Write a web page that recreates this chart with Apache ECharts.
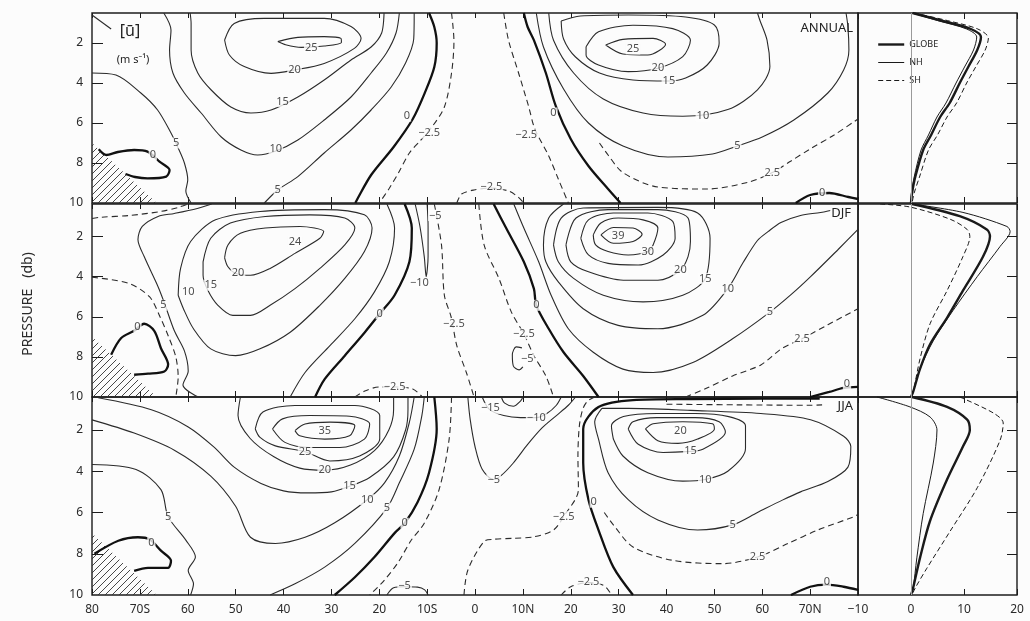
<!DOCTYPE html>
<html>
<head>
<meta charset="utf-8">
<title>Zonal mean wind [u]</title>
<script src="https://cdn.jsdelivr.net/npm/echarts@6/dist/echarts.min.js"></script>
<style>
  html, body { margin: 0; padding: 0; background: #fcfcfc; }
  #chart { width: 1030px; height: 621px; }
</style>
</head>
<body>
<div id="chart"></div>
<script>
  // axis ticks
  const latTicks = [-80, -70, -60, -50, -40, -30, -20, -10, 0, 10, 20, 30, 40, 50, 60, 70];
  const latTickLabels = ['80', '70S', '60', '50', '40', '30', '20', '10S', '0', '10N', '20', '30', '40', '50', '60', '70N'];
  const pressureTicks = [2, 4, 6, 8, 10];
  const uTicks = [-10, 0, 10, 20];

  // topography (hatched) [lat, p]
  const antarcticTopo = [[-80, 7.0], [-80, 10], [-66.5, 10]];

  // contours: [value, [[lat, p], ...]]
  const annualContours = [
    [25, [[-41.2, 1.93], [-37, 1.72], [-31.5, 1.68], [-28, 1.77], [-27.9, 1.97], [-31.5, 2.15], [-36.3, 2.22], [-39.8, 2.07], [-41.2, 1.93]]],
    [20, [[-52.3, 1.85], [-50.3, 1.02], [-44, 0.77], [-31.5, 0.77], [-25.9, 1.18], [-23.8, 1.77], [-25.2, 2.27], [-31.5, 3.02], [-37.7, 3.35], [-42.6, 3.52], [-48.2, 3.18], [-51.3, 2.6], [-52.3, 1.85]]],
    [15, [[-59.5, 0.5], [-59.3, 1.02], [-59.3, 2.35], [-57.9, 3.5], [-55.1, 4.35], [-51, 5.2], [-46.8, 5.5], [-42.6, 5.35], [-37, 4.7], [-31.5, 3.85], [-25.9, 2.85], [-21.7, 2.2], [-19.5, 1.5], [-19, 0.5]]],
    [10, [[-65, 0.5], [-63.5, 1.35], [-63.8, 2.35], [-63.1, 3.5], [-60.7, 4.5], [-57.2, 5.5], [-53, 6.7], [-48.9, 7.35], [-45.4, 7.6], [-41.6, 7.4], [-37, 6.85], [-31.5, 5.85], [-25.9, 4.7], [-21.7, 3.5], [-18.5, 2.5], [-16.5, 1.5], [-15.8, 0.5]]],
    [10, [[-80, 0.6], [-76, 1.3]]],
    [5, [[-80, 3.5], [-75, 3.6], [-69.8, 4.5], [-66.3, 5.35], [-63.5, 6.5], [-62.1, 7.2], [-60.7, 8.0], [-60, 8.85], [-60.4, 9.4], [-59.3, 10]]],
    [5, [[-44, 10], [-41.2, 9.35], [-37, 8.68], [-31.5, 7.5], [-25.9, 6.35], [-21.7, 5.35], [-17.5, 4.2], [-14.5, 3.0], [-12.8, 1.8], [-12.7, 0.5]]],
    [0, [[-78.6, 7.31], [-77, 7.6], [-74.6, 7.45], [-71.2, 7.35], [-68.4, 7.43], [-65.9, 7.93], [-63.8, 8.35], [-64.5, 8.68], [-68.4, 8.77], [-71, 8.7], [-73, 8.55]]],
    [0, [[-9.6, 0.5], [-8.5, 1.2], [-8, 2], [-8.5, 3.2], [-10.5, 4.5], [-13, 5.8], [-17, 7.2], [-21.7, 8.6], [-25, 10]]],
    [-2.5, [[-4.9, 0.5], [-4.4, 1.9], [-4.9, 3.5], [-6.4, 5.2], [-9, 6.2], [-11.5, 6.9], [-13.7, 7.5], [-16, 8.5], [-18, 9.3], [-20, 10]]],
    [-2.5, [[-3.8, 10], [-2.8, 9.55], [-0.2, 9.35], [3.4, 9.25], [7, 9.4], [9, 9.7], [10.2, 10]]],
    [-2.5, [[6, 0.5], [7, 1.86], [9.1, 3.5], [11.2, 5.17], [12.5, 6.3], [15.4, 7.65], [17.4, 8.8], [19.5, 10]]],
    [0, [[10.2, 0.5], [11, 1.2], [12.3, 1.86], [14.8, 3.5], [16.9, 5.17], [20, 6.8], [23.7, 8.15], [27.8, 9.3], [30.4, 10]]],
    [5, [[12.8, 0.5], [14.3, 2.2], [18.5, 4.3], [23.7, 6.0], [30.9, 7.15], [40.3, 7.7], [49.6, 7.55], [54.8, 7.15], [60, 6.7], [66.6, 5.85], [73.7, 4.5], [77, 3.35], [78.1, 2.35], [77.9, 1.2], [77.5, 0.5]]],
    [10, [[15.4, 0.5], [16.4, 1.86], [20.6, 3.5], [26.8, 4.8], [35.1, 5.5], [43.4, 5.66], [52.8, 5.33], [59, 4.34], [61.6, 3.18], [61, 1.86], [59.5, 0.86], [59, 0.5]]],
    [15, [[18, 0.9], [22, 0.65], [32, 0.6], [44, 0.7], [50, 1.1], [51, 2.0], [48.5, 3.1], [44, 3.75], [40.5, 3.9], [33, 3.85], [26, 3.5], [21, 2.7], [18.5, 1.8], [18, 0.9]]],
    [20, [[23.2, 2.19], [25.8, 1.44], [33, 1.11], [41.3, 1.28], [45, 1.86], [43.4, 2.68], [38.2, 3.26], [32, 3.43], [25.8, 3.1], [23.2, 2.6], [23.2, 2.19]]],
    [25, [[27.3, 2.1], [30.9, 1.82], [37.2, 1.77], [39.8, 2.06], [36.1, 2.6], [30.9, 2.55], [27.3, 2.1]]],
    [2.5, [[26, 7.0], [27.8, 7.6], [30.9, 8.48], [38.2, 9.2], [48.6, 9.3], [56.9, 8.97], [62.1, 8.48], [66, 7.9], [70, 7.3], [75, 6.6], [80, 5.8]]],
    [0, [[67, 10], [70, 9.6], [74, 9.5], [78, 9.7], [80, 9.8]]]
  ];

  const djfContours = [
    [20, [[-52.3, 3.06], [-51.6, 2.42], [-49, 1.84], [-43.8, 1.58], [-36.6, 1.5], [-31.6, 1.75], [-32.4, 2.09], [-37.6, 2.84], [-42.8, 3.59], [-46.9, 3.93], [-50, 3.84], [-51.6, 3.51], [-52.3, 3.06]]],
    [15, [[-56.8, 3.26], [-55.2, 2.09], [-51.1, 1.33], [-43.8, 1.0], [-34.5, 0.92], [-27.2, 1.08], [-25.1, 1.58], [-27.2, 2.42], [-32.4, 3.59], [-37.6, 4.6], [-42.8, 5.43], [-46.9, 5.93], [-50.6, 5.93], [-53.7, 5.43], [-55.8, 4.68], [-56.8, 3.93], [-56.8, 3.26]]],
    [10, [[-62, 4.93], [-61.5, 3.59], [-59.4, 2.25], [-54.2, 1.17], [-44.9, 0.75], [-31.4, 0.66], [-23.1, 0.92], [-21.5, 1.58], [-23.1, 2.75], [-27.2, 4.09], [-32.4, 5.43], [-38.6, 6.77], [-44.9, 7.6], [-50, 7.94], [-55.2, 7.6], [-58.8, 6.6], [-60.9, 5.6], [-62, 4.93]]],
    [5, [[-57.8, 10], [-61, 9.4], [-59.9, 8.7], [-60.7, 7.7], [-62.8, 6.7], [-64.9, 5.3], [-66.2, 4.5], [-69.1, 3.0], [-70.4, 2.15], [-69.5, 1.5], [-66.2, 1.0], [-62.8, 0.85], [-58, 0.6], [-55, 0.38]]],
    [5, [[-18.4, 0.38], [-16.8, 1.58], [-17.9, 3.26], [-21, 4.76], [-25.1, 6.1], [-30.3, 7.44], [-35.5, 8.78], [-38.6, 10]]],
    [2.5, [[-80, 4.03], [-72.4, 4.33], [-68, 5.0], [-65.8, 6.0], [-64, 7.0], [-62.5, 8.0], [-62, 9.0], [-62.5, 10]]],
    [2.5, [[-80, 1.1], [-78.1, 1.04], [-72, 0.95], [-65.6, 0.75], [-62, 0.55], [-60, 0.38]]],
    [0, [[-76, 7.89], [-73.9, 7.06], [-71.2, 6.7], [-69.1, 6.35], [-67, 6.7], [-65.6, 7.57], [-64.1, 8.38], [-64.9, 8.73], [-68.3, 8.84], [-71.2, 8.89]]],
    [0, [[-14.7, 0.38], [-13.2, 1.58], [-13.7, 3.26], [-16.8, 4.93], [-19.9, 5.85], [-23, 6.77], [-27.2, 7.94], [-31.4, 9.11], [-33.4, 10]]],
    [-2.5, [[-8.5, 0.38], [-7, 2.42], [-6.4, 4.93], [-5, 6], [-3.8, 7.44], [-1.8, 8.78], [-0.2, 10]]],
    [-2.5, [[-25.1, 10], [-23, 9.7], [-20, 9.5], [-16.8, 9.5], [-13, 9.6], [-11, 10]]],
    [-5, [[-12.5, 0.38], [-11.5, 1.5], [-10.6, 3], [-10.2, 4.0], [-9.8, 3], [-9.8, 1.5], [-10, 0.38]]],
    [-2.5, [[0.8, 0.38], [1.9, 2.42], [5, 4.09], [7.6, 5.77], [10.2, 6.85], [12.3, 7.94], [14.8, 8.95], [16.4, 10]]],
    [-5, [[9.8, 7.55], [8.6, 7.5], [7.8, 7.9], [8, 8.45], [9.2, 8.65], [10, 8.5]]],
    [0, [[3.9, 0.38], [6.5, 1.58], [10.2, 3.26], [12.3, 4.6], [12.8, 5.43], [15.4, 6.6], [18.5, 7.77], [22.6, 8.95], [25.8, 10]]],
    [35, [[26.3, 1.92], [28.9, 1.55], [33, 1.58], [34.9, 1.89], [33, 2.25], [28.9, 2.34], [26.3, 1.92]]],
    [30, [[24.7, 1.92], [26.3, 1.33], [29.9, 1.08], [35.1, 1.17], [38.2, 1.58], [37.2, 2.42], [36.1, 2.75], [32, 2.92], [27.8, 2.75], [25.2, 2.42], [24.7, 1.92]]],
    [25, [[22.1, 2.09], [23.7, 1.17], [28.9, 0.83], [36.1, 0.83], [41.3, 1.25], [41.8, 2.09], [39.3, 2.92], [34.1, 3.42], [27.8, 3.34], [23.7, 2.92], [22.1, 2.09]]],
    [20, [[19, 2.42], [21.1, 1.08], [27.8, 0.66], [38.2, 0.66], [44.5, 1.08], [45, 2.25], [44.5, 3.0], [42.9, 3.68], [38.2, 4.18], [31, 4.18], [23.7, 3.76], [20, 3.26], [19, 2.42]]],
    [15, [[16.4, 2.42], [18, 1.08], [22.6, 0.58], [38.2, 0.55], [46.5, 0.83], [49.1, 2.09], [48.1, 4.09], [43.4, 4.93], [35.1, 5.26], [26.8, 4.93], [20.6, 4.09], [17.4, 3.26], [16.4, 2.42]]],
    [10, [[18.5, 0.38], [15.4, 1.08], [14.3, 2.42], [14.8, 3.26], [17.4, 4.26], [22.6, 5.6], [29.9, 6.43], [38.2, 6.6], [47.6, 5.93], [52.8, 4.6], [56, 3.3], [59, 2.2], [61.2, 1.76], [63.9, 1.3], [68, 0.95], [72.2, 0.8], [76, 0.6]]],
    [5, [[8.1, 0.38], [10.2, 1.58], [13.3, 3.26], [15.9, 4.93], [19.5, 6.6], [24.7, 7.77], [30.9, 8.61], [37.2, 8.78], [45.5, 8.28], [53.8, 7.1], [61.6, 5.77], [66, 4.9], [70.1, 4.0], [75.8, 2.66], [80, 1.65]]],
    [2.5, [[44, 10], [48, 9.6], [53.8, 8.95], [59.7, 8.4], [64, 7.6], [68.3, 7.1], [73.7, 6.4], [80, 5.6]]],
    [0, [[70, 10], [74, 9.75], [77, 9.55], [80, 9.5]]]
  ];

  const jjaContours = [
    [35, [[-37.6, 2.03], [-35.5, 1.71], [-30.3, 1.62], [-25.1, 1.79], [-26.2, 2.28], [-31.4, 2.44], [-36.6, 2.28], [-37.6, 2.03]]],
    [30, [[-42.3, 1.95], [-40.2, 1.46], [-34.5, 1.3], [-26.2, 1.33], [-22, 1.71], [-23.1, 2.44], [-28.2, 2.85], [-34.5, 2.85], [-39.7, 2.6], [-42.3, 1.95]]],
    [25, [[-45.9, 1.95], [-44.3, 1.13], [-37.6, 0.81], [-25.1, 0.81], [-19.9, 1.3], [-19.9, 2.44], [-24.1, 3.26], [-30.3, 3.5], [-35.5, 3.05], [-41.7, 2.77], [-44.9, 2.36], [-45.9, 1.95]]],
    [20, [[-49, 0.4], [-49.5, 1.3], [-47, 2.4], [-42, 3.3], [-36.6, 3.85], [-31.4, 3.95], [-26, 3.7], [-21, 3.0], [-18, 2.0], [-17, 1.0], [-17, 0.4]]],
    [15, [[-78.7, 0.44], [-67.6, 1.02], [-59.9, 1.85], [-54.5, 2.83], [-50.3, 3.8], [-44.7, 4.59], [-40, 4.95], [-35, 5.05], [-30, 5.0], [-26.2, 4.73], [-22, 4.3], [-17, 3.3], [-14.5, 2.0], [-14, 1.0], [-14, 0.4]]],
    [10, [[-80, 1.51], [-71.2, 2.15], [-62.8, 2.98], [-55.2, 4.24], [-50, 5.7], [-46.9, 7.2], [-41.7, 7.5], [-35.5, 7.2], [-29.3, 6.5], [-22.5, 5.38], [-18.9, 4.56], [-15.8, 3.26], [-13.7, 1.62], [-12.7, 0.4]]],
    [5, [[-80, 3.67], [-70.8, 3.91], [-65.6, 4.89], [-64.1, 6.2], [-60.4, 7.34], [-58.4, 8.16], [-59.9, 8.81], [-58.8, 9.46], [-59.4, 10]]],
    [5, [[-42.8, 10], [-37.6, 9.46], [-31.4, 8.65], [-25.1, 7.5], [-18.4, 5.79], [-15.8, 4.56], [-12.7, 2.93], [-11.1, 1.3], [-10.6, 0.4]]],
    [0, [[-79.5, 8.0], [-74.5, 7.37], [-70.4, 7.2], [-68, 7.3], [-65.6, 7.85], [-63.5, 8.34], [-64.1, 8.68], [-68.3, 8.68], [-71.2, 8.83]]],
    [0, [[-8.5, 0.4], [-8, 1.95], [-9.6, 4.07], [-12, 5.5], [-14.7, 6.52], [-16.8, 7.0], [-21, 8.16], [-25.1, 9.14], [-29.3, 10]]],
    [-2.5, [[-4.9, 0.4], [-5.4, 2.44], [-7.5, 4.89], [-10.6, 6.52], [-13.4, 7.37], [-16, 8.4], [-19, 9.3], [-22, 10]]],
    [-5, [[-18.4, 10], [-17, 9.65], [-14.7, 9.6], [-12, 9.62], [-10.5, 9.75], [-9.8, 10]]],
    [-5, [[-1.5, 0.4], [-1, 1.5], [0, 2.8], [1.5, 3.9], [3.9, 4.4], [5.5, 4.2], [8, 3.6], [11, 2.7], [14, 1.9], [17, 1.3], [19.5, 0.8], [21, 0.4]]],
    [-10, [[1.5, 0.4], [3, 1.0], [6, 1.3], [9.5, 1.4], [12.8, 1.4], [15, 1.2], [17, 0.8], [18, 0.4]]],
    [-15, [[5.5, 0.4], [6.2, 0.7], [8, 0.85], [9.5, 0.6], [10, 0.4]]],
    [-2.5, [[-2.3, 10], [-1.5, 8.8], [1.9, 7.4], [3.9, 7.3], [8, 7.25], [12.3, 7.18], [16.4, 6.85], [18.5, 6.2], [21.6, 4.89], [21.5, 3.26], [21.8, 1.8], [22.5, 1.0], [23.5, 0.6], [25, 0.4]]],
    [-2.5, [[18, 10], [20, 9.6], [23.7, 9.4], [27, 9.55], [28.5, 10]]],
    [0, [[33, 10], [28.9, 8.65], [25.8, 6.85], [23.7, 5.38], [22.6, 3.59], [22.6, 1.95], [25.8, 0.89], [33, 0.55], [45, 0.5], [60, 0.48], [72, 0.48]]],
    [2.5, [[40, 0.75], [55, 0.78], [70, 0.8], [72.5, 0.78]]],
    [5, [[26.5, 0.95], [25, 1.6], [25.8, 2.44], [27.8, 4.07], [32, 5.38], [38.2, 6.36], [46.5, 6.85], [53.8, 6.6], [59, 6.0], [64.2, 5.4], [68, 5.0], [73.7, 4.5], [77.9, 3.8], [78.5, 2.8], [77, 2.3], [70.1, 1.5], [59.7, 1.2], [45, 1.05], [32, 0.95], [26.5, 0.95]]],
    [10, [[28.9, 2.44], [28.5, 1.8], [31, 1.35], [38, 1.2], [46, 1.2], [53, 1.35], [56.5, 1.8], [56.5, 2.9], [52.8, 4.0], [48.1, 4.4], [43.4, 4.48], [36.1, 4.07], [30.9, 3.26], [28.9, 2.44]]],
    [15, [[32, 1.95], [33, 1.6], [38, 1.4], [46, 1.4], [51, 1.6], [52.3, 2.1], [47.6, 2.93], [44, 3.05], [39.3, 3.09], [34.1, 2.69], [32, 1.95]]],
    [20, [[35.6, 1.95], [37.2, 1.7], [43.4, 1.6], [49.6, 1.7], [50, 1.95], [46.5, 2.44], [42.4, 2.65], [38.2, 2.52], [35.6, 1.95]]],
    [2.5, [[27, 6.0], [28.9, 6.6], [33, 7.67], [41.3, 8.32], [51.7, 8.48], [59, 8.16], [65.4, 7.5], [71.6, 6.85], [79.2, 6.2], [80, 6.1]]],
    [0, [[66, 10], [70, 9.6], [73.5, 9.5], [77, 9.6], [80, 9.75]]]
  ];

  // contour labels [lat, p, text]
  const annualLabels = [
    [-34.2, 2.25, '25'], [-37.7, 3.35, '20'], [-40.2, 4.93, '15'], [-41.6, 7.27, '10'],
    [-62.4, 7.0, '5'], [-41.2, 9.35, '5'], [-67.3, 7.6, '0'], [-14.2, 5.66, '0'],
    [-9.6, 6.5, '\u22122.5'], [3.4, 9.2, '\u22122.5'], [16.4, 5.5, '0'], [10.7, 6.6, '\u22122.5'],
    [33, 2.3, '25'], [38.2, 3.26, '20'], [40.5, 3.9, '15'], [47.6, 5.66, '10'],
    [54.8, 7.15, '5'], [62.1, 8.48, '2.5'], [72.5, 9.5, '0']
  ];
  const djfLabels = [
    [-37.6, 2.25, '24'], [-49.5, 3.8, '20'], [-55.2, 4.43, '15'], [-59.9, 4.76, '10'],
    [-65.1, 5.43, '5'], [-70.5, 6.5, '0'], [-19.9, 5.85, '0'], [-8.3, 0.95, '\u22125'],
    [-11.6, 4.3, '\u221210'], [-4.4, 6.35, '\u22122.5'], [-16.8, 9.5, '\u22122.5'], [12.8, 5.43, '0'],
    [10.2, 6.85, '\u22122.5'], [10.9, 8.1, '\u22125'], [29.9, 1.95, '39'], [36.1, 2.75, '30'],
    [42.9, 3.68, '20'], [48.1, 4.09, '15'], [52.8, 4.6, '10'], [61.6, 5.77, '5'],
    [68.3, 7.1, '2.5'], [77.7, 9.35, '0']
  ];
  const jjaLabels = [
    [-31.4, 2.03, '35'], [-35.5, 3.05, '25'], [-31.4, 3.93, '20'], [-26.2, 4.73, '15'],
    [-22.5, 5.38, '10'], [-18.4, 5.79, '5'], [-14.7, 6.52, '0'], [-64.1, 6.2, '5'],
    [-67.6, 7.45, '0'], [-14.7, 9.55, '\u22125'], [3.2, 0.95, '\u221215'], [12.8, 1.4, '\u221210'],
    [3.9, 4.4, '\u22125'], [18.5, 6.2, '\u22122.5'], [24.8, 5.5, '0'], [23.7, 9.38, '\u22122.5'],
    [42.9, 2.05, '20'], [45, 3.03, '15'], [48.1, 4.4, '10'], [53.8, 6.6, '5'],
    [59, 8.16, '2.5'], [73.5, 9.35, '0']
  ];

  // hemispheric / global mean profiles [u, p]
  const annualGlobe = [[0.3, 0.5], [6, 0.9], [11.3, 1.3], [13.2, 1.7], [12.5, 2.35], [10.8, 3.2], [9.2, 4.0], [7.3, 5.0], [5.5, 5.7], [3.8, 6.6], [2.3, 7.35], [0.8, 8.7], [0.2, 9.5], [0, 10]];
  const annualNH = [[0.2, 0.5], [5.3, 0.9], [10.5, 1.3], [12.4, 1.7], [11.8, 2.35], [10.1, 3.2], [8.5, 4.0], [6.6, 5.0], [4.9, 5.7], [3.3, 6.6], [1.9, 7.35], [0.6, 8.7], [0.1, 9.5], [0, 10]];
  const annualSH = [[0.6, 0.5], [7.2, 0.9], [12.6, 1.3], [14.6, 1.75], [14, 2.35], [12.2, 3.2], [10.5, 4.0], [8.6, 5.0], [6.8, 5.7], [5, 6.6], [3.3, 7.35], [1.6, 8.7], [0.6, 9.5], [0.2, 10]];
  const djfGlobe = [[0.2, 0.38], [9.2, 0.99], [14.3, 1.65], [14.9, 2.0], [13.6, 3.0], [9.8, 4.7], [6.8, 6.05], [3.6, 7.37], [1.7, 8.6], [0.4, 9.75], [0, 10]];
  const djfNH = [[0.2, 0.38], [9.8, 0.8], [18.1, 1.5], [18.7, 1.75], [16.8, 2.5], [12.5, 4.0], [7.9, 5.7], [4.2, 7.2], [1.7, 8.6], [0.4, 9.75], [0, 10]];
  const djfSH = [[-5.8, 0.38], [-0.2, 0.53], [7.4, 1.14], [10.6, 1.65], [11.1, 2.0], [9.8, 3.0], [6.8, 4.7], [3.6, 6.35], [1.7, 8.1], [0.4, 9.75], [0, 10]];
  const jjaGlobe = [[0.2, 0.4], [6.8, 0.88], [10.6, 1.5], [11.1, 2.0], [9.8, 2.8], [6.8, 4.4], [3.6, 6.4], [1.7, 8.2], [0.4, 9.66], [0, 10]];
  const jjaNH = [[-6.4, 0.4], [-0.2, 0.88], [3.6, 1.37], [4.9, 2.0], [4.2, 3.6], [2.3, 6.05], [1.1, 8.2], [0.4, 9.7], [0, 10]];
  const jjaSH = [[9.2, 0.4], [15.5, 1.17], [17.4, 1.66], [16.8, 2.5], [12.5, 4.8], [7.4, 6.9], [3.0, 8.7], [0.8, 9.66], [0.2, 10]];

  const FONT = '"Noto Sans", "DejaVu Sans", sans-serif';
  const INK = '#1c1c1c';
  const PAPER = '#fcfcfc';

  const panels = [
    {name: 'ANNUAL', contours: annualContours, labels: annualLabels, globe: annualGlobe, nh: annualNH, sh: annualSH, top: 13, height: 190, pMin: 0.5},
    {name: 'DJF', contours: djfContours, labels: djfLabels, globe: djfGlobe, nh: djfNH, sh: djfSH, top: 204, height: 193, pMin: 0.38},
    {name: 'JJA', contours: jjaContours, labels: jjaLabels, globe: jjaGlobe, nh: jjaNH, sh: jjaSH, top: 397, height: 198, pMin: 0.4}
  ];

  // line styles of the three profiles
  const profileStyles = {
    GLOBE: {color: '#1a1a1a', width: 2.4, type: 'solid'},
    NH: {color: '#1a1a1a', width: 1.0, type: 'solid'},
    SH: {color: '#1a1a1a', width: 1.0, type: [5, 3]}
  };

  // diagonal hatch for the topography
  const hatch = document.createElement('canvas');
  hatch.width = 7;
  hatch.height = 7;
  const hctx = hatch.getContext('2d');
  hctx.strokeStyle = '#333';
  hctx.lineWidth = 0.9;
  hctx.beginPath();
  hctx.moveTo(0, 7); hctx.lineTo(7, 0);
  hctx.moveTo(-1, 1); hctx.lineTo(1, -1);
  hctx.moveTo(6, 8); hctx.lineTo(8, 6);
  hctx.stroke();

  const grids = [], xAxes = [], yAxes = [], series = [];
  const noLine = {show: false, onZero: false};

  panels.forEach((pn, i) => {
    const last = i === panels.length - 1;
    // contour grid i, profile grid 3+i
    grids[i] = {left: 92, top: pn.top, width: 766, height: pn.height, show: true, borderColor: INK, borderWidth: 1.4, backgroundColor: 'transparent'};
    grids[3 + i] = {left: 858, top: pn.top, width: 159, height: pn.height, show: true, borderColor: INK, borderWidth: 1.4, backgroundColor: 'transparent'};

    const tickStyle = {color: INK, width: 1};
    xAxes[i] = {
      type: 'value', gridIndex: i, min: -80, max: 80, interval: 10, position: 'bottom',
      axisLine: noLine, splitLine: {show: false},
      axisTick: {show: true, inside: true, length: 6, lineStyle: tickStyle},
      axisLabel: {
        show: last, margin: 9, color: '#2a2a2a', fontSize: 12, fontFamily: FONT,
        formatter: v => { const k = latTicks.indexOf(v); return k < 0 ? '' : latTickLabels[k]; }
      }
    };
    xAxes[3 + i] = {
      type: 'value', gridIndex: i, min: -80, max: 80, interval: 10, position: 'top',
      axisLine: noLine, splitLine: {show: false},
      axisTick: {show: true, inside: true, length: 5, lineStyle: tickStyle}, axisLabel: {show: false}
    };
    xAxes[6 + i] = {
      type: 'value', gridIndex: 3 + i, min: -10, max: 20, interval: 10, position: 'bottom',
      axisLine: noLine, splitLine: {show: false},
      axisTick: {show: true, inside: true, length: 6, lineStyle: tickStyle},
      axisLabel: {
        show: last, margin: 9, color: '#2a2a2a', fontSize: 12, fontFamily: FONT,
        formatter: v => uTicks.indexOf(v) < 0 ? '' : (v < 0 ? '\u2212' + Math.abs(v) : String(v))
      }
    };
    xAxes[9 + i] = {
      type: 'value', gridIndex: 3 + i, min: -10, max: 20, interval: 10, position: 'top',
      axisLine: noLine, splitLine: {show: false},
      axisTick: {show: true, inside: true, length: 6, lineStyle: tickStyle}, axisLabel: {show: false}
    };
    yAxes[i] = {
      type: 'value', gridIndex: i, inverse: true, min: pn.pMin, max: 10, position: 'left',
      axisLine: noLine, splitLine: {show: false},
      axisTick: {show: true, inside: true, length: 11, lineStyle: tickStyle, customValues: pressureTicks.slice(0, 4)},
      axisLabel: {show: true, margin: 9, color: '#2a2a2a', fontSize: 12, fontFamily: FONT, customValues: pressureTicks}
    };
    yAxes[3 + i] = {
      type: 'value', gridIndex: 3 + i, inverse: true, min: pn.pMin, max: 10, position: 'right',
      axisLine: noLine, splitLine: {show: false},
      axisTick: {show: true, inside: true, length: 10, lineStyle: tickStyle, customValues: pressureTicks.slice(0, 4)},
      axisLabel: {show: false}
    };

    // hatched topography
    series.push({
      type: 'custom', xAxisIndex: i, yAxisIndex: i, silent: true, z: 1,
      data: [antarcticTopo[0]],
      renderItem: (params, api) => ({
        type: 'polygon',
        shape: {points: antarcticTopo.map(d => api.coord(d))},
        style: {fill: {image: hatch, repeat: 'repeat'}, stroke: null}
      })
    });

    // contour lines
    pn.contours.forEach(([v, pts]) => {
      series.push({
        type: 'line', xAxisIndex: i, yAxisIndex: i, data: pts, symbol: 'none',
        smooth: 0.3, silent: true, z: 3, animation: false,
        lineStyle: {
          color: v === 0 ? '#111' : '#2b2b2b',
          width: v === 0 ? 2.3 : 1.1,
          type: Math.abs(v) === 2.5 ? [6, 4] : 'solid'
        }
      });
    });

    // contour labels
    series.push({
      type: 'scatter', xAxisIndex: i, yAxisIndex: i, silent: true, z: 6, symbolSize: 1,
      itemStyle: {color: 'rgba(0,0,0,0)'},
      data: pn.labels.map(d => ({value: [d[0], d[1]], name: d[2]})),
      label: {
        show: true, position: 'inside', formatter: '{b}', color: '#222', fontSize: 11,
        fontFamily: FONT, backgroundColor: PAPER, padding: [0, 1]
      }
    });

    // profiles
    const prof = [['GLOBE', pn.globe], ['NH', pn.nh], ['SH', pn.sh]];
    prof.forEach(([nm, pts], k) => {
      const s = {
        type: 'line', name: nm, xAxisIndex: 6 + i, yAxisIndex: 3 + i, data: pts, symbol: 'none',
        smooth: 0.3, silent: true, z: 3, animation: false, color: '#1a1a1a',
        lineStyle: profileStyles[nm]
      };
      if (k === 0) {
        s.markLine = {
          silent: true, symbol: 'none', label: {show: false}, animation: false,
          lineStyle: {color: '#9a9a9a', width: 1, type: 'solid'},
          data: [{xAxis: 0}]
        };
      }
      series.push(s);
    });
  });

  const chart = echarts.init(document.getElementById('chart'));
  chart.setOption({
    backgroundColor: PAPER,
    animation: false,
    textStyle: {fontFamily: FONT},
    grid: grids,
    xAxis: xAxes,
    yAxis: yAxes,
    legend: {
      data: ['GLOBE', 'NH', 'SH'].map(nm => ({name: nm, lineStyle: profileStyles[nm]})),
      orient: 'vertical', left: 872, top: 35,
      itemWidth: 26, itemHeight: 10, itemGap: 9, selectedMode: false,
      itemStyle: {opacity: 0},
      textStyle: {fontSize: 9, color: '#222', fontFamily: FONT}
    },
    graphic: [
      {type: 'text', x: 28, y: 304, rotation: Math.PI / 2, z: 100,
        style: {text: 'PRESSURE   (db)', fontSize: 14, fill: '#2a2a2a', fontFamily: FONT, align: 'center', verticalAlign: 'middle'}},
      {type: 'text', x: 130, y: 31, z: 100,
        style: {text: '[\u016B]', fontSize: 16, fill: '#222', fontFamily: FONT, align: 'center', verticalAlign: 'middle'}},
      {type: 'text', x: 133, y: 60, z: 100,
        style: {text: '(m s\u207B\u00B9)', fontSize: 11, fill: '#222', fontFamily: FONT, align: 'center', verticalAlign: 'middle'}},
      {type: 'text', x: 853, y: 28, z: 100,
        style: {text: 'ANNUAL', fontSize: 13, fill: '#222', fontFamily: FONT, align: 'right', verticalAlign: 'middle'}},
      {type: 'text', x: 852, y: 213, z: 100,
        style: {text: 'DJF', fontSize: 13, fill: '#222', fontFamily: FONT, align: 'right', verticalAlign: 'middle', backgroundColor: PAPER, padding: [0, 1]}},
      {type: 'text', x: 854, y: 406, z: 100,
        style: {text: 'JJA', fontSize: 13, fill: '#222', fontFamily: FONT, align: 'right', verticalAlign: 'middle', backgroundColor: PAPER, padding: [0, 1]}}
    ],
    series: series
  });
</script>
</body>
</html>
